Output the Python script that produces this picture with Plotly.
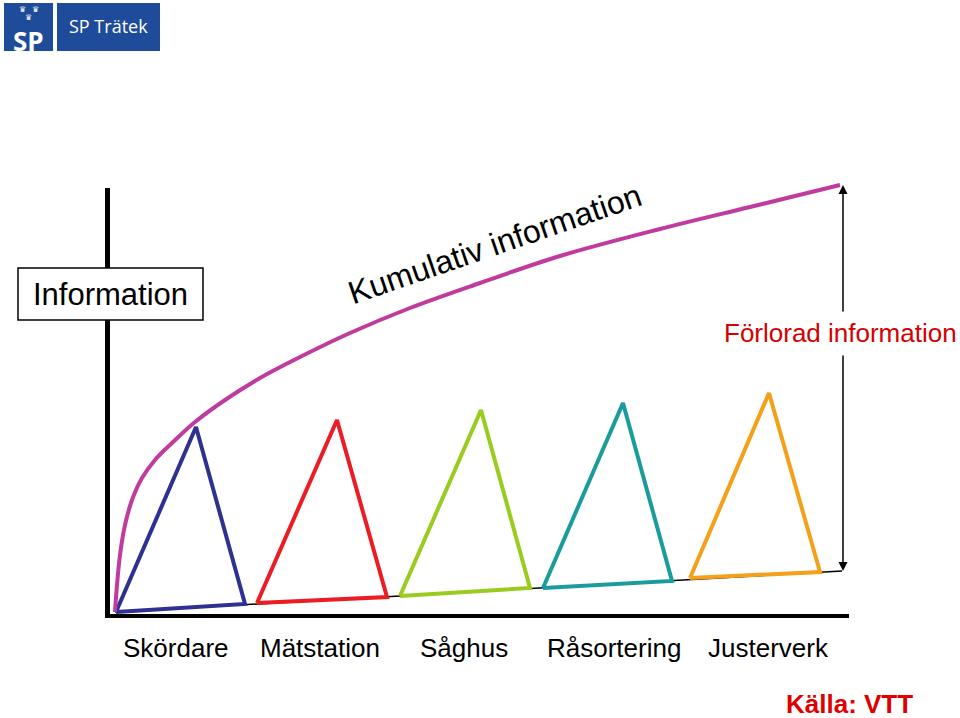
import plotly.graph_objects as go

# ---------------- data (information units; origin at the axis corner) ----------------
stations = ["Skördare", "Mätstation", "Såghus", "Råsortering", "Justerverk"]
station_x = [69, 213, 357, 507, 661]

# each triangle: left base, apex, right base
tri_x = [
    [9, 89, 138],
    [150, 230, 280],
    [293, 374, 423],
    [436, 516, 565],
    [583, 662, 713],
]
tri_y = [
    [4, 189, 12],
    [13, 196, 19],
    [20, 206, 28],
    [28, 213, 35],
    [38, 223, 44],
]
tri_colors = ["#2E3092", "#EC1C24", "#99CC1F", "#1A9C9C", "#F5A01A"]

# cumulative information curve
cum_x = [8, 10, 13, 18, 25, 35, 48, 65, 88, 118, 153, 193, 243, 303, 373, 453, 553, 643, 733]
cum_y = [4, 31, 61, 91, 116, 138, 156, 173, 194, 216, 238, 259, 283, 308, 333, 360, 387, 409, 431]

# baseline of realised information
base_x = [8, 735]
base_y = [4, 45]

# axes
yaxis_line_x = [0.5, 0.5]
yaxis_line_y = [-1, 428]
xaxis_line_x = [-2, 742]
xaxis_line_y = [0, 0]

# lost information arrow
lost_x = 736
lost_top = 431
lost_bottom = 45
lost_gap = [262, 303]

FONT = "Arial, Liberation Sans, sans-serif"

fig = go.Figure()

# axes
fig.add_trace(go.Scatter(x=yaxis_line_x, y=yaxis_line_y, mode="lines",
                         line=dict(color="black", width=5), hoverinfo="skip"))
fig.add_trace(go.Scatter(x=xaxis_line_x, y=xaxis_line_y, mode="lines",
                         line=dict(color="black", width=4), hoverinfo="skip"))
# thin baseline
fig.add_trace(go.Scatter(x=base_x, y=base_y, mode="lines",
                         line=dict(color="black", width=1.5), hoverinfo="skip"))

# triangles
for xs, ys, c in zip(tri_x, tri_y, tri_colors):
    fig.add_trace(go.Scatter(x=xs + [xs[0]], y=ys + [ys[0]], mode="lines",
                             line=dict(color=c, width=4), hoverinfo="skip"))

# cumulative curve
fig.add_trace(go.Scatter(x=cum_x, y=cum_y, mode="lines", line_shape="spline",
                         line=dict(color="#BF3C9E", width=4, smoothing=1.0),
                         hoverinfo="skip"))

annotations = []
# lost-information arrows
annotations.append(dict(x=lost_x, y=lost_top, ax=lost_x, ay=lost_gap[1],
                        axref="x", ayref="y", xref="x", yref="y", text="",
                        showarrow=True, arrowhead=2, arrowsize=1.2, arrowwidth=1.5,
                        arrowcolor="black", standoff=0, startstandoff=0))
annotations.append(dict(x=lost_x, y=lost_bottom, ax=lost_x, ay=lost_gap[0],
                        axref="x", ayref="y", xref="x", yref="y", text="",
                        showarrow=True, arrowhead=2, arrowsize=1.2, arrowwidth=1.5,
                        arrowcolor="black", standoff=0, startstandoff=0))
annotations.append(dict(x=733, y=283, text="Förlorad information", showarrow=False,
                        font=dict(family=FONT, size=26, color="#D40000"),
                        xanchor="center", yanchor="middle"))

# station labels
for name, sx in zip(stations, station_x):
    annotations.append(dict(x=sx, y=-32, text=name, showarrow=False,
                            font=dict(family=FONT, size=26, color="black"),
                            xanchor="center", yanchor="middle"))

# curve label
annotations.append(dict(x=388, y=372, text="Kumulativ information", showarrow=False,
                        textangle=-19,
                        font=dict(family=FONT, size=32, color="black"),
                        xanchor="center", yanchor="middle"))

# Information box label
annotations.append(dict(x=3.5, y=322, text="Information", showarrow=False,
                        font=dict(family=FONT, size=31, color="black"),
                        xanchor="center", yanchor="middle"))

# source
annotations.append(dict(x=742, y=-88, text="<b>Källa: VTT</b>", showarrow=False,
                        font=dict(family=FONT, size=26, color="#E00000"),
                        xanchor="center", yanchor="middle"))

# logo texts
annotations.append(dict(x=1.5, y=590, text="SP Trätek", showarrow=False,
                        font=dict(family="Open Sans, sans-serif", size=18, color="white"),
                        xanchor="center", yanchor="middle"))
annotations.append(dict(x=-78.5, y=575, text="<b>SP</b>", showarrow=False,
                        font=dict(family="Open Sans, sans-serif", size=26, color="white"),
                        xanchor="center", yanchor="middle"))
for cx, cy in [(-85, 607), (-72, 607), (-78.5, 599)]:
    annotations.append(dict(x=cx, y=cy, text="♛", showarrow=False,
                            font=dict(family="DejaVu Sans", size=8, color="white"),
                            xanchor="center", yanchor="middle"))

shapes = [
    dict(type="rect", xref="x", yref="y", x0=-89, x1=96, y0=296, y1=348,
         line=dict(color="black", width=1.5), fillcolor="white", layer="above"),
    dict(type="rect", xref="x", yref="y", x0=-103, x1=-54, y0=565, y1=613,
         line=dict(width=0), fillcolor="#1F4B9B", layer="below"),
    dict(type="rect", xref="x", yref="y", x0=-50, x1=53, y0=565, y1=613,
         line=dict(width=0), fillcolor="#1F4B9B", layer="below"),
]

fig.update_layout(
    width=960, height=718,
    margin=dict(l=0, r=0, t=0, b=0),
    paper_bgcolor="white", plot_bgcolor="white",
    showlegend=False,
    xaxis=dict(range=[-107, 853], visible=False, fixedrange=True),
    yaxis=dict(range=[-102, 616], visible=False, fixedrange=True),
    annotations=annotations,
    shapes=shapes,
)

fig.write_html("out.html")
